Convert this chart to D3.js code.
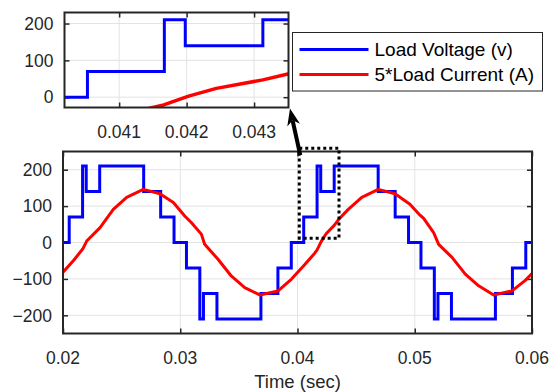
<!DOCTYPE html>
<html>
<head>
<meta charset="utf-8">
<script src="https://cdn.jsdelivr.net/npm/d3@7"></script>
<style>
  html, body { margin: 0; padding: 0; background: #fff; }
  svg { display: block; font-family: "Liberation Sans", Arial, Helvetica, sans-serif; }
</style>
</head>
<body>
<svg id="chart" width="553" height="392"></svg>
<script>
// Multilevel inverter output: staircase load voltage and scaled load current
const switchTimes = [0.02, 0.02053, 0.02167, 0.02198, 0.02313, 0.02688, 0.02833, 0.02947,
  0.03053, 0.03167, 0.03198, 0.03313, 0.03688, 0.03833, 0.03947,
  0.04053, 0.04167, 0.04198, 0.04313, 0.04688, 0.04833, 0.04947,
  0.05053, 0.05167, 0.05198, 0.05313, 0.05688, 0.05833, 0.05947, 0.06];
const voltageLevels = [0, 70, 210, 140, 210, 140, 70, 0,
  -70, -210, -140, -210, -140, -70, 0,
  70, 210, 140, 210, 140, 70, 0,
  -70, -210, -140, -210, -140, -70, 0, 0];

const currentTimes = [0.0200, 0.02088, 0.02168, 0.02202, 0.02316, 0.02429, 0.02543, 0.02685,
  0.02827, 0.02941, 0.0304, 0.03094, 0.0318, 0.03208, 0.03322, 0.03435, 0.0355, 0.03678,
  0.03834, 0.03947, 0.04047, 0.04064, 0.04145, 0.04166, 0.04203, 0.04244, 0.04313, 0.0435,
  0.04433, 0.04548, 0.04689, 0.04832, 0.04959, 0.05045, 0.05076, 0.05161, 0.05204, 0.05318,
  0.05431, 0.05545, 0.05673, 0.05829, 0.05943, 0.0600];
const currentScaled = [-82, -50, -18, 4, 41, 91, 124, 146,
  134, 110, 72, 55, 23, -5, -46, -92, -124, -144,
  -133, -101, -66, -60, -30, -21, 3, 24, 47, 63,
  91, 124, 146, 134, 105, 75, 66, 27, -5, -41,
  -87, -119, -144, -133, -104, -85];

const mainXTicks = [0.02, 0.03, 0.04, 0.05, 0.06];
const mainYTicks = [-200, -100, 0, 100, 200];
const insetXTicks = [0.041, 0.042, 0.043];
const insetYTicks = [0, 100, 200];
const zoomBoxX = [0.04015, 0.04354];
const zoomBoxY = [12, 259];
const seriesNames = ["Load Voltage (v)", "5*Load Current (A)"];
const seriesColors = ["#0000ff", "#ff0000"];
const xLabel = "Time (sec)";

const voltage = switchTimes.map((t, i) => ({ t, v: voltageLevels[i] }));
const current = currentTimes.map((t, i) => ({ t, v: currentScaled[i] }));

const svg = d3.select("#chart");
const ink = "#262626";
const gridColor = "#e3e3e3";

function drawAxes(g, x, y, xTicks, yTicks, fmtX, opts) {
  const [x0, x1] = x.range();
  const [y0, y1] = y.range(); // y0 bottom, y1 top
  const grid = g.append("g");
  xTicks.forEach(t => grid.append("line")
    .attr("x1", x(t)).attr("x2", x(t)).attr("y1", y1).attr("y2", y0)
    .attr("stroke", gridColor).attr("stroke-width", 1));
  yTicks.forEach(t => grid.append("line")
    .attr("x1", x0).attr("x2", x1).attr("y1", y(t)).attr("y2", y(t))
    .attr("stroke", gridColor).attr("stroke-width", 1));

  const tl = 5;
  const axG = g.append("g").attr("class", "frame");
  axG.append("g").attr("transform", `translate(0,${y0})`)
    .call(d3.axisBottom(x).tickValues(xTicks).tickSizeInner(-tl).tickSizeOuter(0).tickFormat(""));
  axG.append("g").attr("transform", `translate(0,${y1})`)
    .call(d3.axisTop(x).tickValues(xTicks).tickSizeInner(-tl).tickSizeOuter(0).tickFormat(""));
  axG.append("g").attr("transform", `translate(${x0},0)`)
    .call(d3.axisLeft(y).tickValues(yTicks).tickSizeInner(-tl).tickSizeOuter(0).tickFormat(""));
  axG.append("g").attr("transform", `translate(${x1},0)`)
    .call(d3.axisRight(y).tickValues(yTicks).tickSizeInner(-tl).tickSizeOuter(0).tickFormat(""));
  axG.selectAll(".domain").remove();
  axG.selectAll(".tick line").attr("stroke", ink).attr("stroke-width", 1.5);

  g.append("g").selectAll("text").data(xTicks).join("text")
    .attr("x", d => x(d)).attr("y", y0 + opts.xLabelGap)
    .attr("text-anchor", "middle").attr("fill", ink)
    .style("font-size", opts.font + "px").text(fmtX);
  g.append("g").selectAll("text").data(yTicks).join("text")
    .attr("x", x0 - opts.yLabelGap).attr("y", d => y(d)).attr("dy", "0.36em")
    .attr("text-anchor", "end").attr("fill", ink)
    .style("font-size", opts.font + "px").text(d => d3.format("d")(d));
}

function drawFrame(g, x, y) {
  const [x0, x1] = x.range();
  const [y0, y1] = y.range();
  g.append("rect").attr("x", x0).attr("y", y1).attr("width", x1 - x0).attr("height", y0 - y1)
    .attr("fill", "none").attr("stroke", ink).attr("stroke-width", 2);
}

// ---------- main axes ----------
const xMain = d3.scaleLinear().domain([0.02, 0.06]).range([63, 532]);
const yMain = d3.scaleLinear().domain([-250, 250]).range([333.5, 151.5]);
const gMain = svg.append("g");
drawAxes(gMain, xMain, yMain, mainXTicks, mainYTicks, d3.format(".2f"), { font: 17.5, xLabelGap: 30, yLabelGap: 11 });

svg.append("clipPath").attr("id", "clipMain").append("rect")
  .attr("x", 63).attr("y", 151.5).attr("width", 532 - 63).attr("height", 333.5 - 151.5);

const lineVMain = d3.line().x(d => xMain(d.t)).y(d => yMain(d.v)).curve(d3.curveStepAfter);
const lineIMain = d3.line().x(d => xMain(d.t)).y(d => yMain(d.v));
const plotMain = gMain.append("g").attr("clip-path", "url(#clipMain)");
plotMain.append("path").datum(voltage).attr("d", lineVMain)
  .attr("fill", "none").attr("stroke", seriesColors[0]).attr("stroke-width", 3).attr("stroke-linejoin", "miter");
plotMain.append("path").datum(current).attr("d", lineIMain)
  .attr("fill", "none").attr("stroke", seriesColors[1]).attr("stroke-width", 3).attr("stroke-linejoin", "round");
drawFrame(gMain, xMain, yMain);

svg.append("text").attr("x", (63 + 532) / 2).attr("y", 388)
  .attr("text-anchor", "middle").attr("fill", ink).style("font-size", "18.5px").text(xLabel);

// dotted zoom region
svg.append("rect")
  .attr("x", xMain(zoomBoxX[0])).attr("y", yMain(zoomBoxY[1]))
  .attr("width", xMain(zoomBoxX[1]) - xMain(zoomBoxX[0]))
  .attr("height", yMain(zoomBoxY[0]) - yMain(zoomBoxY[1]))
  .attr("fill", "none").attr("stroke", "#000").attr("stroke-width", 3)
  .attr("stroke-dasharray", "3,3");

// ---------- inset axes ----------
const xIn = d3.scaleLinear().domain([0.04019, 0.04351]).range([64.5, 288.5]);
const yIn = d3.scaleLinear().domain([-28, 230]).range([107.5, 12.5]);
const gIn = svg.append("g");
gIn.append("rect").attr("x", 64.5).attr("y", 12.5).attr("width", 224).attr("height", 95).attr("fill", "#fff");
drawAxes(gIn, xIn, yIn, insetXTicks, insetYTicks, d3.format(".3f"), { font: 17.5, xLabelGap: 30, yLabelGap: 11 });
svg.append("clipPath").attr("id", "clipIn").append("rect")
  .attr("x", 64.5).attr("y", 12.5).attr("width", 224).attr("height", 95);
const lineVIn = d3.line().x(d => xIn(d.t)).y(d => yIn(d.v)).curve(d3.curveStepAfter);
const lineIIn = d3.line().x(d => xIn(d.t)).y(d => yIn(d.v));
const plotIn = gIn.append("g").attr("clip-path", "url(#clipIn)");
plotIn.append("path").datum(voltage).attr("d", lineVIn)
  .attr("fill", "none").attr("stroke", seriesColors[0]).attr("stroke-width", 3);
plotIn.append("path").datum(current).attr("d", lineIIn)
  .attr("fill", "none").attr("stroke", seriesColors[1]).attr("stroke-width", 3.5).attr("stroke-linejoin", "round");
drawFrame(gIn, xIn, yIn);

// ---------- arrow from zoom region to inset ----------
const tail = [xMain(zoomBoxX[0]) + 1, yMain(zoomBoxY[1]) + 7];
const tip = [xIn.range()[1] + 1.5, yIn.range()[0] + 1];
const ang = Math.atan2(tip[1] - tail[1], tip[0] - tail[0]);
const headLen = 17, headHalf = 6.5, notch = 5;
const rot = (px, py) => [tip[0] + px * Math.cos(ang) - py * Math.sin(ang), tip[1] + px * Math.sin(ang) + py * Math.cos(ang)];
const shaftEnd = rot(-headLen + notch, 0);
svg.append("line").attr("x1", tail[0]).attr("y1", tail[1]).attr("x2", shaftEnd[0]).attr("y2", shaftEnd[1])
  .attr("stroke", "#000").attr("stroke-width", 4);
svg.append("path")
  .attr("d", d3.line()([rot(0, 0), rot(-headLen, -headHalf), rot(-headLen + notch, 0), rot(-headLen, headHalf)]) + "Z")
  .attr("fill", "#000");

// ---------- legend ----------
const lg = svg.append("g");
lg.append("rect").attr("x", 292.5).attr("y", 32.5).attr("width", 250).attr("height", 58.5)
  .attr("fill", "#fff").attr("stroke", ink).attr("stroke-width", 1);
seriesNames.forEach((name, i) => {
  const cy = 49.5 + i * 25;
  lg.append("line").attr("x1", 299.5).attr("x2", 368.5).attr("y1", cy).attr("y2", cy)
    .attr("stroke", seriesColors[i]).attr("stroke-width", 3);
  lg.append("text").attr("x", 374.5).attr("y", cy + 6.5).attr("fill", "#000")
    .style("font-size", "19px").text(name);
});
</script>
</body>
</html>
